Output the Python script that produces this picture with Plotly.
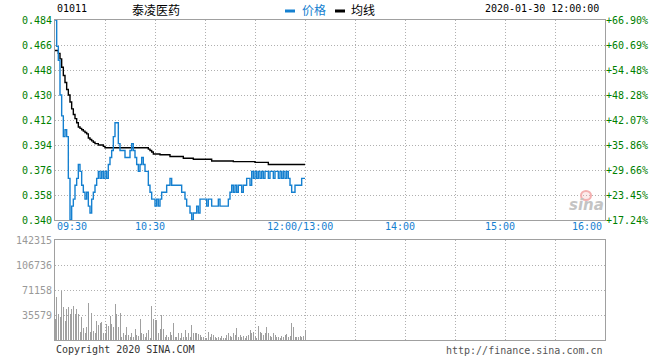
import plotly.graph_objects as go

# ---------------- data ----------------
stock_code = "01011"
stock_name = "泰凌医药"
timestamp = "2020-01-30 12:00:00"
prev_close = 0.29

minutes = list(range(151))  # minutes since 09:30 (morning session)

price = [0.484, 0.465, 0.455, 0.430, 0.415, 0.400, 0.405, 0.400, 0.370, 0.340,
         0.350, 0.355, 0.365, 0.370, 0.380, 0.375, 0.365, 0.360, 0.355, 0.360,
         0.350, 0.345, 0.355, 0.360, 0.365, 0.370, 0.375, 0.370, 0.375, 0.370,
         0.375, 0.370, 0.380, 0.385, 0.390, 0.400, 0.410, 0.410, 0.395, 0.390,
         0.390, 0.390, 0.385, 0.385, 0.385, 0.390, 0.395, 0.390, 0.385, 0.380,
         0.375, 0.380, 0.385, 0.380, 0.375, 0.375, 0.365, 0.360, 0.355, 0.355,
         0.350, 0.355, 0.350, 0.355, 0.360, 0.360, 0.360, 0.365, 0.365, 0.370,
         0.365, 0.365, 0.365, 0.365, 0.365, 0.365, 0.360, 0.360, 0.355, 0.350,
         0.350, 0.345, 0.340, 0.345, 0.345, 0.350, 0.345, 0.355, 0.355, 0.355,
         0.355, 0.350, 0.355, 0.355, 0.350, 0.350, 0.350, 0.350, 0.355, 0.350,
         0.350, 0.350, 0.350, 0.350, 0.355, 0.360, 0.365, 0.360, 0.365, 0.360,
         0.365, 0.365, 0.360, 0.365, 0.365, 0.370, 0.370, 0.365, 0.375, 0.370,
         0.375, 0.370, 0.375, 0.370, 0.375, 0.370, 0.375, 0.375, 0.370, 0.375,
         0.375, 0.370, 0.375, 0.375, 0.370, 0.375, 0.370, 0.375, 0.370, 0.375,
         0.370, 0.365, 0.360, 0.360, 0.365, 0.365, 0.365, 0.365, 0.370, 0.370,
         0.370]

avg_price = [0.462, 0.462, 0.460, 0.456, 0.450, 0.444, 0.439, 0.434, 0.430, 0.425,
             0.420, 0.416, 0.413, 0.410, 0.407, 0.406, 0.405, 0.404, 0.403, 0.402,
             0.399, 0.398, 0.397, 0.396, 0.395, 0.395, 0.394, 0.394, 0.394, 0.393,
             0.392, 0.392, 0.392, 0.392, 0.392, 0.392, 0.392, 0.392, 0.392, 0.392,
             0.392, 0.392, 0.392, 0.392, 0.392, 0.392, 0.392, 0.392, 0.392, 0.392,
             0.392, 0.392, 0.392, 0.392, 0.392, 0.392, 0.391, 0.390, 0.389, 0.3875,
             0.3875, 0.3875, 0.3875, 0.387, 0.387, 0.387, 0.387, 0.387, 0.387, 0.3857,
             0.3857, 0.3857, 0.3857, 0.3857, 0.3857, 0.3857, 0.3857, 0.3845, 0.3845, 0.3845,
             0.3845, 0.3845, 0.3845, 0.3837, 0.3837, 0.3837, 0.3837, 0.3837, 0.3837, 0.3837,
             0.3837, 0.3837, 0.3837, 0.3837, 0.3825, 0.3825, 0.3825, 0.3825, 0.3825, 0.3825,
             0.3825, 0.3825, 0.3825, 0.3825, 0.3825, 0.3825, 0.3825, 0.382, 0.382, 0.382,
             0.382, 0.382, 0.382, 0.382, 0.382, 0.382, 0.382, 0.382, 0.382, 0.382,
             0.3815, 0.3815, 0.3815, 0.3815, 0.3815, 0.3815, 0.3815, 0.3815, 0.380, 0.380,
             0.380, 0.380, 0.380, 0.380, 0.380, 0.380, 0.380, 0.380, 0.380, 0.380,
             0.380, 0.380, 0.380, 0.380, 0.380, 0.380, 0.380, 0.380, 0.380, 0.380,
             0.380]

volume = [30000,
          61700, 37000, 33200, 70200, 47400, 27500, 43600, 46500, 37000, 43600,
          48400, 37000, 43600, 37000, 11900, 32300, 16600, 9500, 19000, 53100,
          11900, 38000, 13300, 9500, 27500, 21300, 23700, 26100, 9500, 9500,
          22800, 19900, 34200, 22800, 19000, 51200, 37000, 19000, 38000, 4700,
          9500, 7100, 19000, 7100, 4700, 9500, 3800, 15200, 7100, 5700,
          29400, 9500, 8100, 4700, 9500, 14200, 2400, 48400, 29400, 28500,
          28500, 9500, 15200, 35600, 15200, 4700, 7100, 3800, 11900, 7100,
          24700, 4700, 3800, 9500, 2400, 9500, 4700, 14200, 3800, 9500,
          4700, 21300, 9500, 9500, 9500, 8500, 7100, 3800, 4700, 2400,
          2400, 11900, 3800, 8500, 7100, 4700, 2400, 3800, 2400, 5700,
          2400, 2400, 7100, 9500, 5700, 3800, 9500, 7100, 16600, 4700,
          7100, 3800, 5700, 2400, 5700, 7100, 14200, 10400, 11900, 5700,
          2400, 19900, 11900, 9500, 7100, 10400, 18000, 9500, 5700, 4700,
          9500, 7100, 4700, 3800, 2400, 5700, 3800, 7100, 8500, 4700,
          5700, 23700, 18000, 3800, 4700, 4700, 5700, 3800, 5700, 14200]

price_ticks = [0.340, 0.358, 0.376, 0.394, 0.412, 0.430, 0.448, 0.466, 0.484]
volume_ticks = [35579, 71158, 106736, 142315]
time_tick_pos = [0, 60, 150, 210, 270, 330]
time_tick_labels = ["09:30", "10:30", "12:00/13:00", "14:00", "15:00", "16:00"]
session_minutes = 330

# ---------------- styling / layout helpers ----------------
W, H = 660, 360
L, R, T, B = 55, 55, 20, 20


def pxx(x):
    return (x - L) / (W - L - R)


def pyy(y):
    return (H - B - y) / (H - T - B)


BLUE = "#1580d0"
GREEN = "#008000"
GRID = "#b0b0b0"
FRAME = "#a0a0a0"
VOLC = "#a0a0a0"
MONO = "DejaVu Sans Mono"
CJK = "Noto Sans CJK SC"
DOTS = "1px,2px"

fig = go.Figure()
fig.add_trace(go.Scatter(x=minutes, y=avg_price, mode="lines",
                         line=dict(color="#000000", width=1.4, shape="hv"),
                         xaxis="x", yaxis="y", hoverinfo="skip", showlegend=False))
fig.add_trace(go.Scatter(x=minutes, y=price, mode="lines",
                         line=dict(color=BLUE, width=1.4, shape="hv"),
                         xaxis="x", yaxis="y", hoverinfo="skip", showlegend=False))
# invisible copy on the percentage axis so that the right-hand axis gets drawn
fig.add_trace(go.Scatter(x=minutes, y=price, mode="lines",
                         line=dict(color="rgba(0,0,0,0)", width=0),
                         xaxis="x", yaxis="y3", hoverinfo="skip", showlegend=False))
fig.add_trace(go.Bar(x=minutes, y=volume, xaxis="x2", yaxis="y2",
                     marker=dict(color=VOLC, line=dict(width=0)), width=0.6,
                     hoverinfo="skip", showlegend=False))

grid_x = list(range(0, session_minutes + 1, 30))
common_x = dict(range=[0, session_minutes], tickvals=grid_x, showticklabels=False,
                showgrid=True, gridcolor=GRID, griddash=DOTS, gridwidth=1,
                showline=True, linecolor=FRAME, linewidth=1, mirror=True,
                zeroline=False, ticks="", fixedrange=True)

pct_text = ["%+.2f%%" % ((v / prev_close - 1) * 100) for v in price_ticks]

fig.update_layout(
    width=W, height=H,
    margin=dict(l=L, r=R, t=T, b=B, autoexpand=False),
    paper_bgcolor="white", plot_bgcolor="white",
    bargap=0,
    xaxis=dict(domain=[0, 1], anchor="y", **common_x),
    xaxis2=dict(domain=[0, 1], anchor="y2", **common_x),
    yaxis=dict(domain=[pyy(220), 1], range=[price_ticks[0], price_ticks[-1]],
               tickvals=price_ticks, ticktext=[f"{v:.3f}" for v in price_ticks],
               tickfont=dict(family=MONO, size=10, color=GREEN),
               showgrid=True, gridcolor=GRID, griddash=DOTS, gridwidth=1,
               showline=True, linecolor=FRAME, linewidth=1, mirror=True,
               zeroline=False, ticks="", fixedrange=True),
    yaxis3=dict(overlaying="y", side="right", anchor="x",
                domain=[pyy(220), 1],
                range=[price_ticks[0], price_ticks[-1]],
                tickvals=price_ticks, ticktext=pct_text,
                tickfont=dict(family=MONO, size=10, color=GREEN),
                showgrid=False, zeroline=False, showline=False, ticks="",
                fixedrange=True),
    yaxis2=dict(domain=[0, pyy(240)], range=[0, volume_ticks[-1]],
                tickvals=volume_ticks, ticktext=[str(v) for v in volume_ticks],
                tickfont=dict(family=MONO, size=10, color="#999999"),
                showgrid=True, gridcolor=GRID, griddash=DOTS, gridwidth=1,
                showline=True, linecolor=FRAME, linewidth=1, mirror=True,
                zeroline=False, ticks="", fixedrange=True),
)

ann = []
# time labels
for pos, lab in zip(time_tick_pos, time_tick_labels):
    if pos == time_tick_pos[0]:
        xa, sh = "left", 0
    elif pos == time_tick_pos[-1]:
        xa, sh = "right", -1
    else:
        xa, sh = "center", -5
    ann.append(dict(x=pos, xref="x", y=pyy(226.5), yref="paper", text=lab,
                    showarrow=False, xanchor=xa, yanchor="middle", xshift=sh,
                    font=dict(family=MONO, size=10, color=BLUE)))

# header
ann.append(dict(x=pxx(55), y=pyy(9), xref="paper", yref="paper", text=stock_code,
                showarrow=False, xanchor="left", yanchor="middle",
                font=dict(family=MONO, size=10, color="#000000")))
ann.append(dict(x=pxx(130), y=pyy(9.5), xref="paper", yref="paper", text=stock_name,
                showarrow=False, xanchor="left", yanchor="middle",
                font=dict(family=CJK, size=12, color="#000000")))
ann.append(dict(x=pxx(300), y=pyy(9.5), xref="paper", yref="paper", text="价格",
                showarrow=False, xanchor="left", yanchor="middle",
                font=dict(family=CJK, size=12, color=BLUE)))
ann.append(dict(x=pxx(349), y=pyy(9.5), xref="paper", yref="paper", text="均线",
                showarrow=False, xanchor="left", yanchor="middle",
                font=dict(family=CJK, size=12, color="#000000")))
ann.append(dict(x=pxx(601), y=pyy(9), xref="paper", yref="paper", text=timestamp,
                showarrow=False, xanchor="right", yanchor="middle",
                font=dict(family=MONO, size=10, color="#000000")))
# footer
ann.append(dict(x=pxx(54), y=pyy(349.5), xref="paper", yref="paper",
                text="Copyright 2020 SINA.COM", showarrow=False,
                xanchor="left", yanchor="middle",
                font=dict(family=MONO, size=10, color="#333333")))
ann.append(dict(x=pxx(605), y=pyy(350), xref="paper", yref="paper",
                text="http://finance.sina.com.cn", showarrow=False,
                xanchor="right", yanchor="middle",
                font=dict(family=MONO, size=10, color="#555555")))
# sina watermark
ann.append(dict(x=pxx(586), y=pyy(205), xref="paper", yref="paper",
                text="<b><i>sina</i></b>", showarrow=False,
                xanchor="center", yanchor="middle",
                font=dict(family="DejaVu Sans", size=15, color="#c4c4c4")))
fig.update_layout(annotations=ann)

shapes = [
    dict(type="line", xref="paper", yref="paper", x0=pxx(285), x1=pxx(295),
         y0=pyy(11), y1=pyy(11), line=dict(color=BLUE, width=3)),
    dict(type="line", xref="paper", yref="paper", x0=pxx(335), x1=pxx(345),
         y0=pyy(11), y1=pyy(11), line=dict(color="#000000", width=3)),
    dict(type="circle", xref="paper", yref="paper", x0=pxx(581), x1=pxx(591),
         y0=pyy(200), y1=pyy(191), line=dict(color="#f3b0b0", width=2),
         fillcolor="rgba(243,176,176,0.25)"),
]
fig.update_layout(shapes=shapes)

fig.write_html("out.html", config={"displayModeBar": False, "staticPlot": True})

# remove the browser's default page margin so the 660x360 figure fills the window
with open("out.html", "r", encoding="utf-8") as f:
    html = f.read()
html = html.replace("<head>", "<head><style>html,body{margin:0;padding:0;overflow:hidden;}</style>", 1)
with open("out.html", "w", encoding="utf-8") as f:
    f.write(html)
